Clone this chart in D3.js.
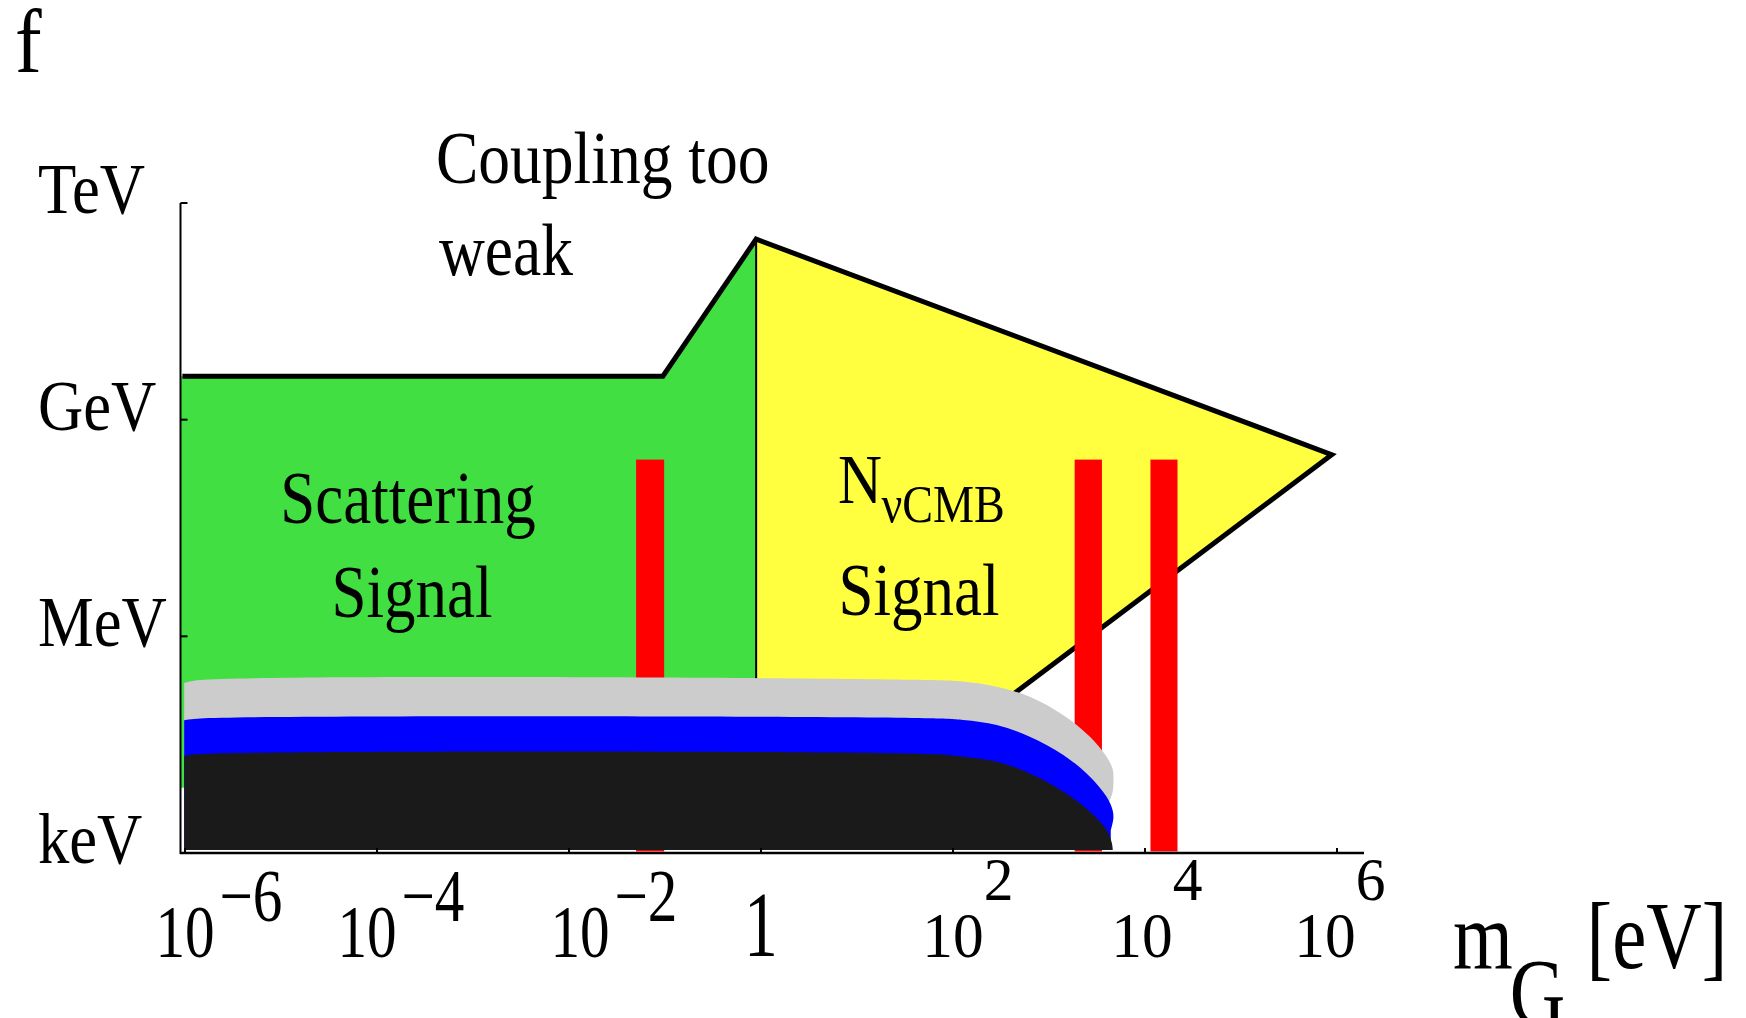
<!DOCTYPE html>
<html>
<head>
<meta charset="utf-8">
<script src="https://cdn.jsdelivr.net/npm/d3@7"></script>
<style>
  html, body { margin: 0; padding: 0; background: #fff; }
  svg { display: block; }
  text { font-family: "Liberation Serif", "Times New Roman", serif; fill: #000; }
</style>
</head>
<body>
<svg id="chart" width="1746" height="1018"></svg>
<script>
// Graviton mass m_G [eV] (x) against energy scale [eV] (y), both logarithmic.

// ---- axis ticks -------------------------------------------------------
const massTicks = [1e-6, 1e-4, 1e-2, 1, 1e2, 1e4, 1e6];
const massTickBase = ["10", "10", "10", "1", "10", "10", "10"];
const massTickExp = ["−6", "−4", "−2", "", "2", "4", "6"];
const energyTicks = [1e12, 1e9, 1e6, 1e3];
const energyTickLabels = ["TeV", "GeV", "MeV", "keV"];

// ---- regions: [mass eV, energy eV] -------------------------------------
const scatteringRegion = [[8.9e-7, 4.0e9], [0.095, 4.0e9], [0.89, 3.16e11], [0.89, 8.0e3], [8.9e-7, 8.0e3]];
const cmbRegion = [[0.89, 3.16e11], [8.8e5, 3.28e8], [70, 2.6e4], [0.89, 2.6e4]];
const couplingBoundary = [[9.4e-7, 4.0e9], [0.095, 4.0e9], [0.89, 3.16e11], [8.8e5, 3.28e8], [70, 2.6e4]];
const regionDivider = [[0.89, 3.16e11], [0.89, 2.6e4]];

// vertical mass windows
const windowMassLo = [0.050, 1850, 11400];
const windowMassHi = [0.098, 3560, 21800];
const windowTop = 2.8e8;
const windowBottom = 1.05e3;

// lower exclusion bands (upper edge of each band)
const grayEdge = [[9.8e-7, 2.26e5], [1.45e-6, 2.48e5], [57.5, 2.48e5], [126, 2.36e5], [285, 2.0e5],
  [631, 1.46e5], [1400, 8.15e4], [2670, 4.07e4], [3980, 2.15e4], [4600, 1.45e4], [4700, 1.05e4],
  [4600, 7.0e3], [4200, 5.0e3]];
const blueEdge = [[9.8e-7, 6.9e4], [1.45e-6, 7.3e4], [57.5, 7.33e4], [128, 6.95e4], [285, 5.92e4],
  [631, 4.07e4], [1410, 2.28e4], [2670, 1.14e4], [3980, 6.0e3], [4600, 3.9e3], [4680, 3.0e3], [4400, 2.05e3]];
const blackEdge = [[9.8e-7, 2.2e4], [1.45e-6, 2.34e4], [57.5, 2.34e4], [128, 2.15e4], [285, 1.84e4],
  [631, 1.26e4], [1410, 7.06e3], [2670, 3.73e3], [3980, 2.08e3], [4500, 1.4e3], [4620, 1.1e3]];
const bandFloor = 1.1e3;

// ---- layout -------------------------------------------------------------
const svg = d3.select("#chart");
const x = d3.scaleLog().domain([1e-6, 1e6]).range([185, 1337]);
const y = d3.scaleLog().domain([1e3, 1e12]).range([853, 203]);
const xAxisStart = 180, xAxisEnd = 1364;
const yAxisX = 180.5;
const massLabelNudge = [0, -10, 11, 0, 0, -3, -12];

const toPts = arr => arr.map(d => [x(d[0]), y(d[1])]);
const poly = arr => "M" + toPts(arr).join("L") + "Z";
const polyline = d3.line().x(d => x(d[0])).y(d => y(d[1]));

const COLORS = { green: "#41df41", yellow: "#ffff40", red: "#ff0000", gray: "#cccccc", blue: "#0000ff", black: "#1a1a1a" };

// filled signal regions
svg.append("path").attr("d", poly(scatteringRegion)).attr("fill", COLORS.green);
svg.append("path").attr("d", poly(cmbRegion)).attr("fill", COLORS.yellow);
svg.append("path").attr("d", polyline(regionDivider)).attr("fill", "none")
  .attr("stroke", "#000").attr("stroke-width", 2);
svg.append("path").attr("d", polyline(couplingBoundary)).attr("fill", "none")
  .attr("stroke", "#000").attr("stroke-width", 5).attr("stroke-linejoin", "miter");

// mass windows
svg.append("g").selectAll("rect").data(windowMassLo).join("rect")
  .attr("x", d => x(d))
  .attr("width", (d, i) => x(windowMassHi[i]) - x(d))
  .attr("y", y(windowTop))
  .attr("height", y(windowBottom) - y(windowTop))
  .attr("fill", COLORS.red);

// lower bands
const band = d3.area()
  .x(d => x(d[0]))
  .y1(d => y(d[1]))
  .y0(y(bandFloor))
  .curve(d3.curveCatmullRom.alpha(0.5));
[[grayEdge, COLORS.gray], [blueEdge, COLORS.blue], [blackEdge, COLORS.black]].forEach(([edge, c]) => {
  svg.append("path").attr("d", band(edge)).attr("fill", c);
});

// ---- axes ---------------------------------------------------------------
const axes = svg.append("g").attr("stroke", "#000").attr("fill", "none");
axes.append("line").attr("x1", yAxisX).attr("x2", yAxisX).attr("y1", y(1e12)).attr("y2", y(1e3) + 1)
  .attr("stroke-width", 2);
axes.append("line").attr("x1", xAxisStart).attr("x2", xAxisEnd).attr("y1", y(1e3)).attr("y2", y(1e3))
  .attr("stroke-width", 2.5);
axes.selectAll(".yt").data(energyTicks).join("line")
  .attr("x1", yAxisX).attr("x2", yAxisX + 7)
  .attr("y1", d => y(d)).attr("y2", d => y(d)).attr("stroke-width", 2);
axes.selectAll(".xt").data(massTicks).join("line")
  .attr("x1", d => x(d)).attr("x2", d => x(d))
  .attr("y1", y(1e3)).attr("y2", y(1e3) - 5).attr("stroke-width", 2);

// ---- text helpers ---------------------------------------------------------
function label(px, py, size, sx, anchor) {
  return svg.append("text")
    .attr("transform", `translate(${px},${py}) scale(${sx},1)`)
    .attr("font-size", size)
    .attr("text-anchor", anchor || "start");
}

// panel letter
label(15, 72, 92, 0.87).text("f");

// energy labels
energyTicks.forEach((e, i) => {
  label(38, y(e) + 10, 72, 0.87).text(energyTickLabels[i]);
});

// mass labels
massTicks.forEach((m, i) => {
  const base = massTickBase[i], exp = massTickExp[i];
  const cx = x(m) + massLabelNudge[i];
  if (!exp) {
    label(cx, 956, 94, 0.72, "middle").text(base);
    return;
  }
  const neg = exp.startsWith("−");
  const size = neg ? 74 : 64;
  const sx = neg ? 0.8 : 0.96;
  const g = svg.append("g").attr("transform", `translate(${cx},957) scale(${sx},1)`);
  g.append("text").attr("font-size", size).attr("text-anchor", "end").attr("x", size * 0.5).text(base);
  g.append("text").attr("font-size", neg ? 74 : 62)
    .attr("x", size * 0.5 + (neg ? 6 : 0))
    .attr("y", neg ? -36 : -57)
    .text(exp);
});

// axis title
const mt = svg.append("g").attr("transform", "translate(1453,968) scale(0.8,1)");
mt.append("text").attr("font-size", 96).text("m");
mt.append("text").attr("font-size", 96).attr("x", 71).attr("y", 57).text("G");
mt.append("text").attr("font-size", 96).attr("x", 167).text("[eV]");

// region annotations
label(436, 183, 73, 0.87).text("Coupling too");
label(439, 275, 73, 0.87).text("weak");
label(408, 523, 75, 0.84, "middle").text("Scattering");
label(412, 617, 75, 0.84, "middle").text("Signal");

const nt = svg.append("g").attr("transform", "translate(838,503) scale(0.87,1)");
nt.append("text").attr("font-size", 70).text("N");
nt.append("text").attr("font-size", 53).attr("x", 50).attr("y", 19).text("νCMB");
label(919, 615, 75, 0.84, "middle").text("Signal");
</script>
</body>
</html>
